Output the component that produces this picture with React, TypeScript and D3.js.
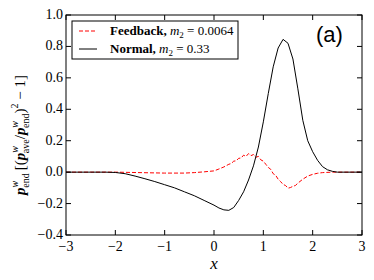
import React from 'react';
import * as d3 from 'd3';

// normal run, m2 = 0.33
const normalX = [-3, -2.5, -2.2, -2, -1.8, -1.6, -1.4, -1.2, -1, -0.8, -0.6, -0.4, -0.2, 0, 0.1, 0.2, 0.3, 0.4, 0.5, 0.6, 0.7, 0.8, 0.9, 1.0, 1.1, 1.2, 1.3, 1.4, 1.5, 1.6, 1.7, 1.8, 1.9, 2.0, 2.1, 2.2, 2.3, 2.4, 2.5, 3];
const normalY = [0, 0, 0, -0.002, -0.01, -0.025, -0.042, -0.06, -0.08, -0.1, -0.125, -0.15, -0.18, -0.21, -0.228, -0.24, -0.243, -0.225, -0.18, -0.125, -0.05, 0.04, 0.16, 0.32, 0.5, 0.67, 0.79, 0.845, 0.82, 0.72, 0.53, 0.33, 0.2, 0.13, 0.075, 0.035, 0.015, 0.005, 0, 0];

// feedback run, m2 = 0.0064 (noisy)
const feedbackX = [-3, -2.5, -2, -1.5, -1, -0.6, -0.4, -0.2, 0, 0.1, 0.2, 0.3, 0.35, 0.4, 0.45, 0.5, 0.55, 0.6, 0.65, 0.7, 0.75, 0.8, 0.85, 0.9, 0.95, 1.0, 1.05, 1.1, 1.15, 1.2, 1.25, 1.3, 1.35, 1.4, 1.45, 1.5, 1.55, 1.6, 1.65, 1.7, 1.8, 1.9, 2.0, 2.1, 2.2, 2.4, 3];
const feedbackY = [0, 0, 0, -0.003, -0.006, -0.006, -0.003, 0.002, 0.008, 0.02, 0.033, 0.05, 0.055, 0.07, 0.072, 0.088, 0.09, 0.108, 0.1, 0.118, 0.105, 0.112, 0.095, 0.1, 0.078, 0.07, 0.05, 0.03, 0.018, -0.01, -0.02, -0.045, -0.06, -0.078, -0.085, -0.102, -0.098, -0.09, -0.085, -0.07, -0.045, -0.025, -0.014, -0.007, -0.003, 0, 0];

const xTicks = [-3, -2, -1, 0, 1, 2, 3];
const yTicks = [-0.4, -0.2, 0, 0.2, 0.4, 0.6, 0.8, 1.0];

const W = 374;
const H = 280;
const margin = { top: 15, right: 12, bottom: 45, left: 66 };
const serif = 'Liberation Serif, DejaVu Serif, serif';

const App: React.FC = () => {
  const x = d3.scaleLinear().domain([-3, 3]).range([margin.left, W - margin.right]);
  const y = d3.scaleLinear().domain([-0.4, 1.0]).range([H - margin.bottom, margin.top]);

  const line = d3.line<[number, number]>().x(d => x(d[0])).y(d => y(d[1]));
  const normalPath = line(normalX.map((v, i) => [v, normalY[i]] as [number, number])) || '';
  const feedbackPath = line(feedbackX.map((v, i) => [v, feedbackY[i]] as [number, number])) || '';

  const fmt = (v: number, f: string) => d3.format(f)(v).replace('-', '\u2212');
  const x0 = margin.left, x1 = W - margin.right, y0 = margin.top, y1 = H - margin.bottom;
  const tl = 5;

  return (
    <svg width={W} height={H} style={{ position: 'absolute', left: 0, top: 0, fontFamily: serif }}>
      <rect width={W} height={H} fill="#fff" />
      <path d={feedbackPath} fill="none" stroke="#ff0000" strokeWidth={1} strokeDasharray="4,2" />
      <path d={normalPath} fill="none" stroke="#000" strokeWidth={1} />
      <rect x={x0} y={y0} width={x1 - x0} height={y1 - y0} fill="none" stroke="#000" strokeWidth={1} />
      {xTicks.map(t => (
        <g key={'x' + t}>
          <line x1={x(t)} x2={x(t)} y1={y1} y2={y1 - tl} stroke="#000" />
          <line x1={x(t)} x2={x(t)} y1={y0} y2={y0 + tl} stroke="#000" />
          <text x={x(t)} y={y1 + 16} textAnchor="middle" fontSize={14}>{fmt(t, 'd')}</text>
        </g>
      ))}
      {yTicks.map(t => (
        <g key={'y' + t}>
          <line x1={x0} x2={x0 + tl} y1={y(t)} y2={y(t)} stroke="#000" />
          <line x1={x1} x2={x1 - tl} y1={y(t)} y2={y(t)} stroke="#000" />
          <text x={x0 - 3} y={y(t) + 4} textAnchor="end" fontSize={14}>{fmt(t, '.1f')}</text>
        </g>
      ))}
      <text x={(x0 + x1) / 2} y={269} textAnchor="middle" fontSize={17} fontStyle="italic">x</text>
      <text transform={`translate(25,${(y0 + y1) / 2 + 10}) rotate(-90)`} textAnchor="middle" fontSize={15}>
        <tspan fontStyle="italic" fontWeight="bold">p</tspan>
        <tspan fontSize={10} fontStyle="italic" dy={-7}>w</tspan>
        <tspan fontSize={10} dx={-7} dy={11}>end</tspan>
        <tspan dy={-4} dx={3}>[(</tspan>
        <tspan fontStyle="italic" fontWeight="bold">p</tspan>
        <tspan fontSize={10} fontStyle="italic" dy={-7}>w</tspan>
        <tspan fontSize={10} dx={-7} dy={11}>ave</tspan>
        <tspan dy={-4}>/</tspan>
        <tspan fontStyle="italic" fontWeight="bold">p</tspan>
        <tspan fontSize={10} fontStyle="italic" dy={-7}>w</tspan>
        <tspan fontSize={10} dx={-7} dy={11}>end</tspan>
        <tspan dy={-4}>)</tspan>
        <tspan fontSize={10} dy={-7}>2</tspan>
        <tspan dy={7}> − 1]</tspan>
      </text>
      <g>
        <rect x={72} y={21} width={166} height={38} fill="#fff" stroke="#000" strokeWidth={1} />
        <line x1={79} x2={97} y1={31} y2={31} stroke="#ff0000" strokeDasharray="4,2" />
        <line x1={79} x2={97} y1={49} y2={49} stroke="#000" />
        <text x={110} y={35} fontSize={13}>
          <tspan fontWeight="bold">Feedback, </tspan>
          <tspan fontStyle="italic">m</tspan>
          <tspan fontSize={9} dy={3}>2</tspan>
          <tspan dy={-3}> = 0.0064</tspan>
        </text>
        <text x={110} y={53} fontSize={13}>
          <tspan fontWeight="bold">Normal, </tspan>
          <tspan fontStyle="italic">m</tspan>
          <tspan fontSize={9} dy={3}>2</tspan>
          <tspan dy={-3}> = 0.33</tspan>
        </text>
      </g>
      <text x={316} y={42} fontSize={22} fontFamily="Liberation Sans, Arial, sans-serif">(a)</text>
    </svg>
  );
};

export default App;
